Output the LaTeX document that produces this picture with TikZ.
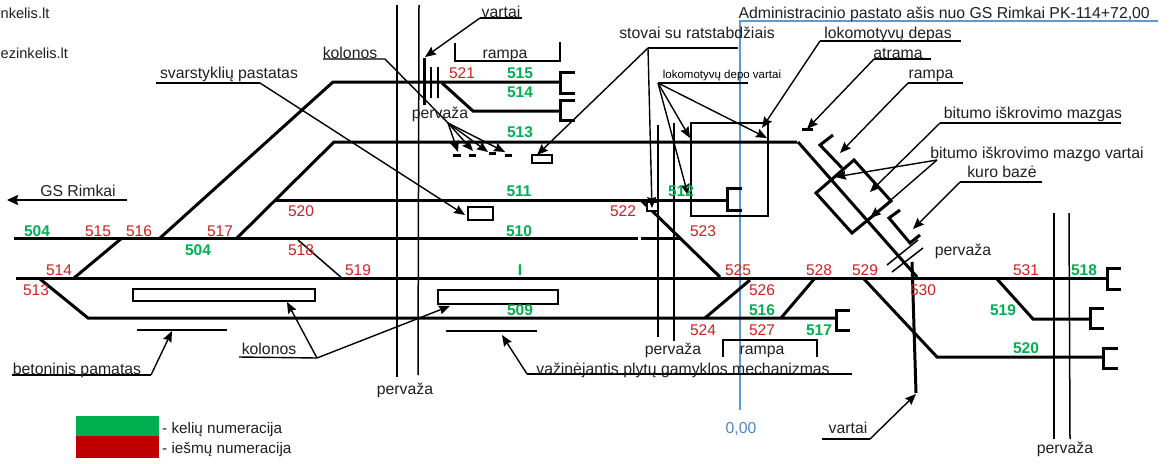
\documentclass[tikz,border=0pt]{standalone}
\usepackage{fontspec}
\setmainfont{Liberation Sans}
\usetikzlibrary{arrows.meta}
\definecolor{kelias}{HTML}{00B050}
\definecolor{iesmas}{HTML}{C00000}
\definecolor{iesmtxt}{HTML}{D02020}
\definecolor{asis}{HTML}{5B9BD5}
\definecolor{asistxt}{HTML}{4A86C5}
\tikzset{
	lbl/.style={inner sep=0pt, text height=11pt, text depth=0pt, font=\fontsize{15.8}{17}\selectfont, text=black!88},
	keln/.style={inner sep=0pt, font=\fontsize{15.5}{17}\selectfont\bfseries, text=kelias},
	iesn/.style={inner sep=0pt, font=\fontsize{15.5}{17}\selectfont, text=iesmtxt},
	track/.style={line width=3pt, line join=miter},
	stopper/.style={line width=3pt},
	thinl/.style={line width=1.5pt},
	leader/.style={line width=1.4pt},
	tip/.style={leader, -{Stealth[length=11pt,width=9pt,inset=1.5pt]}},
	box/.style={line width=1.5pt, fill=white}
}
% buferis kelio gale
\newcommand{\stopat}[4]{\draw [stopper] (#4,#1) -- (#2,#1) -- (#2,#3) -- (#4,#3);}
\begin{document}
\begin{tikzpicture}[x=1pt, y=-1pt]

	\useasboundingbox (0,0) rectangle (1169,463);
	\clip (0,0) rectangle (1169,463);

	% Pastatu asis
	\draw [asis, line width=1.4pt] (740,410)--(740,21)--(1158,21);

	% Pervazos
	\draw [thinl] (397,5)--(397,377);
	\draw [thinl] (419,5)--(418,375);
	\draw [thinl] (431,67)--(431,98);
	\draw [thinl] (438,67)--(438,98);
	\draw [thinl] (658,125)--(658,337);
	\draw [thinl] (674,123)--(674,341);
	\draw [thinl] (1054,213)--(1054,439);
	\draw [thinl] (1069,213)--(1070,439);
	\draw [thinl] (887,265)--(918,240);
	\draw [thinl] (892,272)--(923,248);

	% Keliai
	\draw [track] (14,238)--(638,238);
	\draw [track] (641,238)--(680,238);
	\draw [track] (16,278)--(1107,278);
	\draw [track] (40,279)--(88,318)--(836,318);
	\draw [track] (74,278)--(122,238);
	\draw [track] (160,238)--(333,82)--(560,82);
	\draw [track] (237,238)--(334,142)--(797,142);
	\draw [track] (275,200)--(727,200);
	\draw [track] (442,83)--(473,111)--(560,111);
	\draw [track] (642,201)--(720,277);
	\draw [track] (705,318)--(750,280);
	\draw [track] (815,278)--(781,318);
	\draw [track] (798,142)--(917,277);
	\draw [track] (864,279)--(937,357)--(1103,357);
	\draw [track] (997,279)--(1033,319)--(1090,319);
	\draw [thinl] (298,240)--(343,279);

	% Buferiai
	\stopat{72}{560}{93}{575}
	\stopat{100}{560}{120}{575}
	\stopat{188}{727}{210}{742}
	\stopat{310}{836}{330}{850}
	\stopat{268}{1107}{289}{1121}
	\stopat{308}{1090}{328}{1104}
	\stopat{348}{1103}{368}{1118}

	% Vartai
	\draw [track] (424,58)--(424,105);
	\draw [track] (912,262)--(916,393);

	% Pastatai
	\draw [line width=1.5pt] (691,216)--(691,123)--(768,123)--(768,216)--cycle;
	\draw [box] (532,155) rectangle (552,163);
	\draw [box] (468,207) rectangle (493,220);
	\draw [box] (647,202) rectangle (658,211);
	\draw [box] (133,289) rectangle (315,301);
	\draw [box] (438,290) rectangle (558,304);
	\draw [track] (854,160)--(891,201)--(852,233)--(816,193)--cycle;
	\draw [track] (833,135)--(820,145)--(842,168);
	\draw [track] (900,210)--(889,218)--(910,243)--(920,235);
	\draw [track] (802,129)--(813,129);
	\draw [track] (453,155)--(461,155);
	\draw [track] (469,155)--(476,155);
	\draw [track] (489,153)--(496,153);
	\draw [track] (505,155)--(512,155);

	% Rampos ir pamatai
	\draw [leader] (455,43)--(455,61)--(560,61)--(560,42);
	\draw [leader] (723,357)--(723,340)--(817,340)--(817,357);
	\draw [leader] (137,330)--(227,330);
	\draw [leader] (446,331)--(537,331);

	% Krypties rodykle
	\coordinate (rimkaiStart) at (127,200);
	\coordinate (rimkaiEnd) at (7,200);
	\draw [line width=2.2pt, -{Stealth[length=11pt,width=10pt,inset=1.5pt]}] (rimkaiStart)--(rimkaiEnd);

	% Rodykles
	\coordinate (vartaiA) at (480,18);
	\draw [leader] (522,18)--(vartaiA);
	\draw [tip] (vartaiA)--(425,57);

	\coordinate (kolonosA) at (385,59);
	\coordinate (kolonosHub) at (448,123);
	\draw [leader] (323,59)--(kolonosA)--(kolonosHub);
	\draw [tip] (kolonosHub)--(458,152);
	\draw [tip] (kolonosHub)--(473,151);
	\draw [tip] (kolonosHub)--(488,152);
	\draw [tip] (kolonosHub)--(505,152);

	\coordinate (svarstA) at (260,83);
	\draw [leader] (156,83)--(svarstA);
	\draw [tip] (svarstA)--(465,215);

	\coordinate (stovaiHub) at (648,48);
	\draw [leader] (738,48)--(stovaiHub);
	\draw [tip] (stovaiHub)--(537,155);
	\draw [tip] (stovaiHub)--(652,208);

	\coordinate (depoHub) at (658,83);
	\draw [leader] (748,83)--(depoHub);
	\draw [tip] (depoHub)--(690,138);
	\draw [tip] (depoHub)--(688,195);
	\draw [tip] (depoHub)--(767,138);

	\coordinate (depasA) at (820,41);
	\draw [leader] (961,41)--(depasA);
	\draw [tip] (depasA)--(762,128);

	\coordinate (atramaA) at (874,59);
	\draw [leader] (931,59)--(atramaA);
	\draw [tip] (atramaA)--(807,129);

	\coordinate (rampaA) at (908,83);
	\draw [leader] (963,83)--(rampaA);
	\draw [tip] (rampaA)--(840,153);

	\coordinate (mazgasA) at (940,123);
	\draw [leader] (1121,123)--(mazgasA);
	\draw [tip] (mazgasA)--(870,192);

	\coordinate (mvartaiHub) at (937,160);
	\draw [tip] (mvartaiHub)--(835,177);
	\draw [tip] (mvartaiHub)--(870,218);

	\coordinate (kuroA) at (960,182);
	\draw [leader] (1042,182)--(kuroA);
	\draw [tip] (kuroA)--(913,229);

	\coordinate (betonA) at (151,375);
	\draw [leader] (12,375)--(betonA);
	\draw [tip] (betonA)--(172,331);

	\coordinate (kolonosB) at (317,358);
	\draw [leader] (239,357)--(kolonosB);
	\draw [tip] (kolonosB)--(287,302);
	\draw [tip] (kolonosB)--(450,306);

	\coordinate (mechanA) at (527,374);
	\draw [leader] (852,374)--(mechanA);
	\draw [tip] (mechanA)--(502,335);

	\coordinate (vartaiB) at (870,439);
	\draw [leader] (822,439)--(vartaiB);
	\draw [tip] (vartaiB)--(916,394);

	% Uzrasai
	\node (saitasA) [lbl, anchor=west, font=\fontsize{14.6}{16}\selectfont] at (0.5,13) {nkelis.lt};
	\node (saitasB) [lbl, anchor=west, font=\fontsize{14.6}{16}\selectfont] at (0.5,53) {ezinkelis.lt};
	\node (vartaiT) [lbl] at (501,12) {vartai};
	\node (rampaT) [lbl] at (505,53) {rampa};
	\node (kolonosT) [lbl] at (350,53) {kolonos};
	\node (svarstT) [lbl] at (229,73) {svarstyklių pastatas};
	\node (pervazaA) [lbl] at (440,113) {pervaža};
	\node (stovaiT) [lbl] at (697,33) {stovai su ratstabdžiais};
	\node (depoT) [inner sep=0pt, text height=8.5pt, text depth=0pt, font=\fontsize{11.5}{13}\selectfont] at (722,74) {lokomotyvų depo vartai};
	\node (adminT) [lbl, anchor=east] at (1150,13) {Administracinio pastato ašis nuo GS Rimkai PK-114+72,00};
	\node (depasT) [lbl] at (888,33) {lokomotyvų depas};
	\node (atramaT) [lbl] at (898,53) {atrama};
	\node (rampaU) [lbl] at (931,73) {rampa};
	\node (mazgasT) [lbl] at (1033,113) {bitumo iškrovimo mazgas};
	\node (mvartaiT) [lbl] at (1037,153) {bitumo iškrovimo mazgo vartai};
	\node (kuroT) [lbl] at (1002,172) {kuro bazė};
	\node (rimkaiT) [lbl] at (78,191) {GS Rimkai};
	\node (pervazaB) [lbl] at (963,250) {pervaža};
	\node (betonT) [lbl] at (77,369) {betoninis pamatas};
	\node (kolonosU) [lbl] at (269,349) {kolonos};
	\node (pervazaC) [lbl] at (405,389) {pervaža};
	\node (pervazaD) [lbl] at (673,349) {pervaža};
	\node (rampaV) [lbl] at (762,349) {rampa};
	\node (mechanT) [lbl] at (683,369) {važinėjantis plytų gamyklos mechanizmas};
	\node (nulis) [lbl, text=asistxt] at (741,428) {0,00};
	\node (vartaiU) [lbl] at (848,428) {vartai};
	\node (pervazaE) [lbl] at (1065,448) {pervaža};

	% Keliu numeriai
	\node (k515) [keln] at (520,73) {515};
	\node (k514) [keln] at (520,92) {514};
	\node (k513) [keln] at (520,132) {513};
	\node (k511) [keln] at (519,191) {511};
	\node (k512) [keln] at (681,191) {512};
	\node (k510) [keln] at (519,231) {510};
	\node (k504a) [keln] at (37,231) {504};
	\node (k504b) [keln] at (198,250) {504};
	\node (kI) [keln] at (520,270) {I};
	\node (k509) [keln] at (520,310) {509};
	\node (k516) [keln] at (762,310) {516};
	\node (k517) [keln] at (819,330) {517};
	\node (k518) [keln] at (1084,270) {518};
	\node (k519) [keln] at (1003,310) {519};
	\node (k520) [keln] at (1026,348) {520};

	% Iesmu numeriai
	\node (i513) [iesn] at (36,290) {513};
	\node (i514) [iesn] at (59,270) {514};
	\node (i515) [iesn] at (98,231) {515};
	\node (i516) [iesn] at (139,231) {516};
	\node (i517) [iesn] at (220,231) {517};
	\node (i518) [iesn] at (301,250) {518};
	\node (i519) [iesn] at (358,270) {519};
	\node (i520) [iesn] at (301,211) {520};
	\node (i521) [iesn] at (462,73) {521};
	\node (i522) [iesn] at (623,211) {522};
	\node (i523) [iesn] at (703,231) {523};
	\node (i524) [iesn] at (703,330) {524};
	\node (i525) [iesn] at (738,270) {525};
	\node (i526) [iesn] at (762,290) {526};
	\node (i527) [iesn] at (762,330) {527};
	\node (i528) [iesn] at (819,270) {528};
	\node (i529) [iesn] at (865,270) {529};
	\node (i530) [iesn] at (923,290) {530};
	\node (i531) [iesn] at (1026,270) {531};

	% Legenda
	\fill [kelias] (76,416) rectangle (159,436);
	\fill [iesmas] (76,436) rectangle (159,458);
	\node (legK) [lbl, anchor=west, font=\fontsize{15.3}{17}\selectfont] at (162,428) {- kelių numeracija};
	\node (legI) [lbl, anchor=west, font=\fontsize{15.3}{17}\selectfont] at (162,448) {- iešmų numeracija};

\end{tikzpicture}
\end{document}
